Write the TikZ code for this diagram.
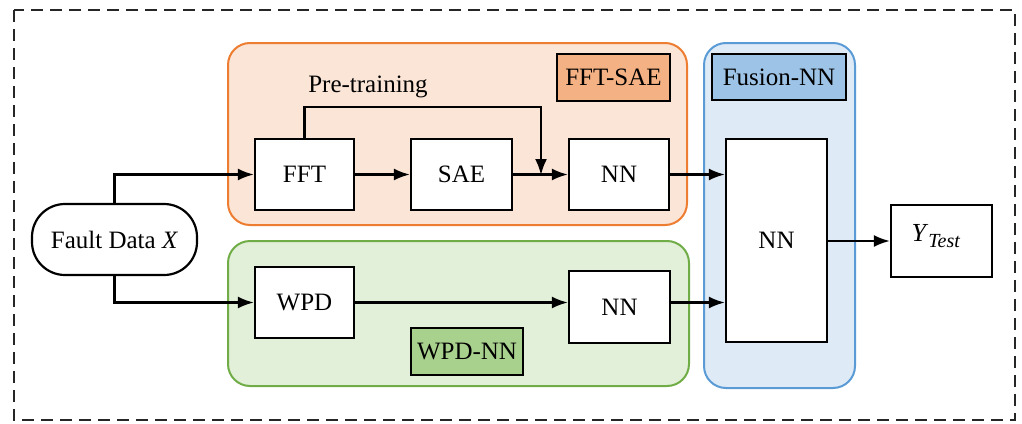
\documentclass[tikz,border=0pt]{standalone}
\usepackage{fontspec}
\setmainfont{Liberation Serif}
\usetikzlibrary{arrows.meta}
\definecolor{orgline}{HTML}{ED7D31}
\definecolor{orgfill}{HTML}{FBE5D6}
\definecolor{orgtag}{HTML}{F4B183}
\definecolor{grnline}{HTML}{70AD47}
\definecolor{grnfill}{HTML}{E2F0D9}
\definecolor{grntag}{HTML}{A9D18E}
\definecolor{bluline}{HTML}{5B9BD5}
\definecolor{blufill}{HTML}{DEEBF7}
\definecolor{blutag}{HTML}{9DC3E6}
\tikzset{
  block/.style={draw=black, line width=2.2pt, fill=white, inner sep=0pt,
    font=\fontsize{25}{28}\selectfont},
  tag/.style={draw=black, line width=2.2pt, inner sep=0pt,
    font=\fontsize{25}{28}\selectfont},
  group/.style={line width=2pt, rounded corners=22pt},
  flow/.style={line width=2.2pt, -{Latex[length=16pt,width=12pt]}},
}
\begin{document}
\begin{tikzpicture}[x=1pt,y=-1pt]
  \useasboundingbox (0,0) rectangle (1022,423);
  % outer frame
  \draw[line width=2pt, dash pattern=on 12pt off 7pt, black!85] (14,10) rectangle (1015,420);

  % stage backgrounds
  \draw[group, draw=orgline, fill=orgfill] (228,43) rectangle (687,225);
  \draw[group, draw=grnline, fill=grnfill] (228,241) rectangle (689,386);
  \draw[group, draw=bluline, fill=blufill] (704,43) rectangle (855,388);

  % stage tags
  \node[tag, fill=orgtag, minimum width=113pt, minimum height=47pt] (tfft) at (613.5,77.5) {FFT-SAE};
  \node[tag, fill=blutag, minimum width=134pt, minimum height=46pt] (tfus) at (779,77) {Fusion-NN};
  \node[tag, fill=grntag, minimum width=112pt, minimum height=47pt] (twpd) at (467,351.5) {WPD-NN};

  % processing blocks
  \node[block, rounded corners=33pt, minimum width=165pt, minimum height=71pt] (fault) at (114.5,239.5) {Fault Data \textit{X}};
  \node[block, minimum width=99pt, minimum height=71pt] (fft) at (304.5,174.5) {FFT};
  \node[block, minimum width=101pt, minimum height=71pt] (sae) at (461.5,174.5) {SAE};
  \node[block, minimum width=100pt, minimum height=71pt] (nna) at (619,174.5) {NN};
  \node[block, minimum width=99pt, minimum height=71pt] (wpd) at (304.5,302.5) {WPD};
  \node[block, minimum width=101pt, minimum height=72pt] (nnb) at (619.5,307) {NN};
  \node[block, minimum width=101pt, minimum height=203pt] (nnc) at (776.5,240.5) {NN};
  \node[block, minimum width=101pt, minimum height=72pt] (yt) at (941.5,241) {};
  \node[inner sep=0pt, font=\fontsize{26}{28}\selectfont] (ytl) at (936,236)
    {\textit{Y}\raisebox{-6pt}{\fontsize{20}{22}\selectfont\textit{Test}}};

  % pre-training label
  \node[font=\fontsize{25}{28}\selectfont, inner sep=0pt] (pre) at (368,87) {Pre-training};

  % connectors
  \coordinate (split) at (541,175);
  \draw[flow] (fault.north) |- (fft.west);
  \draw[flow] (fault.south) |- (wpd.west);
  \draw[flow] (fft.east) -- (sae.west);
  \draw[flow] (sae.east) -- (nna.west);
  \draw[flow] (fft.north) |- (541,107) -- (split);
  \draw[flow] (nna.east) -- (nnc.west |- nna.east);
  \draw[flow] (wpd.east) -- (nnb.west |- wpd.east);
  \draw[flow] (nnb.east |- wpd.east) -- (nnc.west |- wpd.east);
  \draw[flow] (nnc.east |- yt.west) -- (yt.west);
\end{tikzpicture}
\end{document}
